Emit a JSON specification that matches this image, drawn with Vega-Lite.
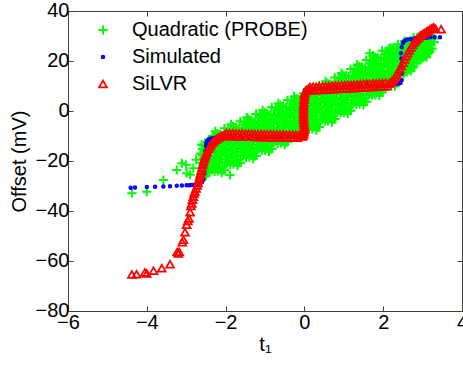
{
"$schema":"https://vega.github.io/schema/vega-lite/v6.json",
"width":394,"height":300,
"autosize":{"type":"none"},
"padding":{"left":68,"top":11,"right":1,"bottom":56},
"background":"white",
"config":{
 "view":{"stroke":"#404040","strokeWidth":1},
 "font":"Liberation Sans",
 "axis":{"labelFont":"Liberation Sans","titleFont":"Liberation Sans","labelFontSize":20,"titleFontSize":20,"titleFontWeight":"normal","labelColor":"#000","titleColor":"#000","grid":false,"domain":false,"tickColor":"#404040","tickSize":-5,"labelOverlap":false,"labelBound":false,"labelFlush":false},
 "legend":{"labelFont":"Liberation Sans","labelFontSize":20,"labelColor":"#000","labelLimit":0}
},
"data":{"values":[
{"s":"Q","x":-2.6,"y":-25.5},{"s":"Q","x":-2.57,"y":-23.0},{"s":"Q","x":-2.62,"y":-20.7},{"s":"Q","x":-2.56,"y":-19.1},{"s":"Q","x":-2.64,"y":-17.1},{"s":"Q","x":-2.59,"y":-15.2},{"s":"Q","x":-2.61,"y":-13.4},
{"s":"Q","x":-2.48,"y":-23.9},{"s":"Q","x":-2.53,"y":-21.4},{"s":"Q","x":-2.45,"y":-19.3},{"s":"Q","x":-2.51,"y":-17.5},{"s":"Q","x":-2.47,"y":-15.6},{"s":"Q","x":-2.54,"y":-13.6},{"s":"Q","x":-2.5,"y":-25.8},
{"s":"Q","x":-2.42,"y":-24.7},{"s":"Q","x":-2.36,"y":-22.5},{"s":"Q","x":-2.4,"y":-20.1},{"s":"Q","x":-2.45,"y":-18.1},{"s":"Q","x":-2.38,"y":-16.2},{"s":"Q","x":-2.35,"y":-14.3},{"s":"Q","x":-2.43,"y":-11.4},
{"s":"Q","x":-2.25,"y":-23.1},{"s":"Q","x":-2.31,"y":-21.2},{"s":"Q","x":-2.27,"y":-18.5},{"s":"Q","x":-2.3,"y":-16.2},{"s":"Q","x":-2.33,"y":-13.7},{"s":"Q","x":-2.28,"y":-11.3},{"s":"Q","x":-2.26,"y":-8.1},
{"s":"Q","x":-2.2,"y":-24.1},{"s":"Q","x":-2.17,"y":-21.0},{"s":"Q","x":-2.22,"y":-18.2},{"s":"Q","x":-2.16,"y":-16.1},{"s":"Q","x":-2.24,"y":-13.7},{"s":"Q","x":-2.19,"y":-11.3},{"s":"Q","x":-2.21,"y":-9.0},
{"s":"Q","x":-2.08,"y":-22.3},{"s":"Q","x":-2.13,"y":-19.2},{"s":"Q","x":-2.05,"y":-16.6},{"s":"Q","x":-2.11,"y":-14.3},{"s":"Q","x":-2.07,"y":-11.9},{"s":"Q","x":-2.14,"y":-9.4},{"s":"Q","x":-2.1,"y":-24.7},
{"s":"Q","x":-2.02,"y":-23.5},{"s":"Q","x":-1.96,"y":-20.7},{"s":"Q","x":-2.0,"y":-17.7},{"s":"Q","x":-2.05,"y":-15.3},{"s":"Q","x":-1.98,"y":-12.9},{"s":"Q","x":-1.95,"y":-10.5},{"s":"Q","x":-2.03,"y":-6.9},
{"s":"Q","x":-1.85,"y":-20.3},{"s":"Q","x":-1.91,"y":-18.4},{"s":"Q","x":-1.87,"y":-15.7},{"s":"Q","x":-1.9,"y":-13.4},{"s":"Q","x":-1.93,"y":-10.9},{"s":"Q","x":-1.88,"y":-8.5},{"s":"Q","x":-1.86,"y":-5.3},
{"s":"Q","x":-1.8,"y":-21.3},{"s":"Q","x":-1.77,"y":-18.2},{"s":"Q","x":-1.82,"y":-15.4},{"s":"Q","x":-1.76,"y":-13.3},{"s":"Q","x":-1.84,"y":-10.9},{"s":"Q","x":-1.79,"y":-8.5},{"s":"Q","x":-1.81,"y":-6.2},
{"s":"Q","x":-1.68,"y":-19.5},{"s":"Q","x":-1.73,"y":-16.4},{"s":"Q","x":-1.65,"y":-13.8},{"s":"Q","x":-1.71,"y":-11.5},{"s":"Q","x":-1.67,"y":-9.1},{"s":"Q","x":-1.74,"y":-6.6},{"s":"Q","x":-1.7,"y":-21.9},
{"s":"Q","x":-1.62,"y":-20.7},{"s":"Q","x":-1.56,"y":-17.9},{"s":"Q","x":-1.6,"y":-14.9},{"s":"Q","x":-1.65,"y":-12.5},{"s":"Q","x":-1.58,"y":-10.1},{"s":"Q","x":-1.55,"y":-7.7},{"s":"Q","x":-1.63,"y":-4.1},
{"s":"Q","x":-1.45,"y":-17.5},{"s":"Q","x":-1.51,"y":-15.6},{"s":"Q","x":-1.47,"y":-12.9},{"s":"Q","x":-1.5,"y":-10.6},{"s":"Q","x":-1.53,"y":-8.1},{"s":"Q","x":-1.48,"y":-5.7},{"s":"Q","x":-1.46,"y":-2.5},
{"s":"Q","x":-1.4,"y":-18.5},{"s":"Q","x":-1.37,"y":-15.4},{"s":"Q","x":-1.42,"y":-12.6},{"s":"Q","x":-1.36,"y":-10.5},{"s":"Q","x":-1.44,"y":-8.1},{"s":"Q","x":-1.39,"y":-5.7},{"s":"Q","x":-1.41,"y":-3.4},
{"s":"Q","x":-1.28,"y":-16.7},{"s":"Q","x":-1.33,"y":-13.6},{"s":"Q","x":-1.25,"y":-11.0},{"s":"Q","x":-1.31,"y":-8.7},{"s":"Q","x":-1.27,"y":-6.3},{"s":"Q","x":-1.34,"y":-3.8},{"s":"Q","x":-1.3,"y":-19.1},
{"s":"Q","x":-1.22,"y":-17.9},{"s":"Q","x":-1.16,"y":-15.1},{"s":"Q","x":-1.2,"y":-12.1},{"s":"Q","x":-1.25,"y":-9.7},{"s":"Q","x":-1.18,"y":-7.3},{"s":"Q","x":-1.15,"y":-4.9},{"s":"Q","x":-1.23,"y":-1.3},
{"s":"Q","x":-1.05,"y":-14.7},{"s":"Q","x":-1.11,"y":-12.8},{"s":"Q","x":-1.07,"y":-10.1},{"s":"Q","x":-1.1,"y":-7.8},{"s":"Q","x":-1.13,"y":-5.3},{"s":"Q","x":-1.08,"y":-2.9},{"s":"Q","x":-1.06,"y":0.3},
{"s":"Q","x":-1.0,"y":-15.7},{"s":"Q","x":-0.97,"y":-12.6},{"s":"Q","x":-1.02,"y":-9.8},{"s":"Q","x":-0.96,"y":-7.7},{"s":"Q","x":-1.04,"y":-5.3},{"s":"Q","x":-0.99,"y":-2.9},{"s":"Q","x":-1.01,"y":-0.6},
{"s":"Q","x":-0.88,"y":-13.9},{"s":"Q","x":-0.93,"y":-10.8},{"s":"Q","x":-0.85,"y":-8.2},{"s":"Q","x":-0.91,"y":-5.9},{"s":"Q","x":-0.87,"y":-3.5},{"s":"Q","x":-0.94,"y":-1.0},{"s":"Q","x":-0.9,"y":-16.3},
{"s":"Q","x":-0.82,"y":-15.1},{"s":"Q","x":-0.76,"y":-12.3},{"s":"Q","x":-0.8,"y":-9.3},{"s":"Q","x":-0.85,"y":-6.9},{"s":"Q","x":-0.78,"y":-4.5},{"s":"Q","x":-0.75,"y":-2.1},{"s":"Q","x":-0.83,"y":1.5},
{"s":"Q","x":-0.65,"y":-11.9},{"s":"Q","x":-0.71,"y":-10.0},{"s":"Q","x":-0.67,"y":-7.3},{"s":"Q","x":-0.7,"y":-5.0},{"s":"Q","x":-0.73,"y":-2.5},{"s":"Q","x":-0.68,"y":-0.1},{"s":"Q","x":-0.66,"y":3.1},
{"s":"Q","x":-0.6,"y":-12.9},{"s":"Q","x":-0.57,"y":-9.8},{"s":"Q","x":-0.62,"y":-7.0},{"s":"Q","x":-0.56,"y":-4.9},{"s":"Q","x":-0.64,"y":-2.5},{"s":"Q","x":-0.59,"y":-0.1},{"s":"Q","x":-0.61,"y":2.2},
{"s":"Q","x":-0.48,"y":-11.1},{"s":"Q","x":-0.53,"y":-8.0},{"s":"Q","x":-0.45,"y":-5.4},{"s":"Q","x":-0.51,"y":-3.1},{"s":"Q","x":-0.47,"y":-0.7},{"s":"Q","x":-0.54,"y":1.8},{"s":"Q","x":-0.5,"y":-13.5},
{"s":"Q","x":-0.42,"y":-12.3},{"s":"Q","x":-0.36,"y":-9.5},{"s":"Q","x":-0.4,"y":-6.5},{"s":"Q","x":-0.45,"y":-4.1},{"s":"Q","x":-0.38,"y":-1.7},{"s":"Q","x":-0.35,"y":0.7},{"s":"Q","x":-0.43,"y":4.3},
{"s":"Q","x":-0.25,"y":-9.1},{"s":"Q","x":-0.31,"y":-7.2},{"s":"Q","x":-0.27,"y":-4.5},{"s":"Q","x":-0.3,"y":-2.2},{"s":"Q","x":-0.33,"y":0.3},{"s":"Q","x":-0.28,"y":2.7},{"s":"Q","x":-0.26,"y":5.9},
{"s":"Q","x":-0.2,"y":-10.1},{"s":"Q","x":-0.17,"y":-7.0},{"s":"Q","x":-0.22,"y":-4.2},{"s":"Q","x":-0.16,"y":-2.1},{"s":"Q","x":-0.24,"y":0.3},{"s":"Q","x":-0.19,"y":2.7},{"s":"Q","x":-0.21,"y":5.0},
{"s":"Q","x":-0.08,"y":-8.3},{"s":"Q","x":-0.13,"y":-5.2},{"s":"Q","x":-0.05,"y":-2.6},{"s":"Q","x":-0.11,"y":-0.3},{"s":"Q","x":-0.07,"y":2.1},{"s":"Q","x":-0.14,"y":4.6},{"s":"Q","x":-0.1,"y":-10.7},
{"s":"Q","x":-0.02,"y":-9.5},{"s":"Q","x":0.04,"y":-6.7},{"s":"Q","x":0.0,"y":-3.7},{"s":"Q","x":-0.05,"y":-1.3},{"s":"Q","x":0.02,"y":1.1},{"s":"Q","x":0.05,"y":3.5},{"s":"Q","x":-0.03,"y":7.1},
{"s":"Q","x":0.15,"y":-6.2},{"s":"Q","x":0.09,"y":-4.3},{"s":"Q","x":0.13,"y":-1.6},{"s":"Q","x":0.1,"y":0.7},{"s":"Q","x":0.07,"y":3.2},{"s":"Q","x":0.12,"y":5.6},{"s":"Q","x":0.14,"y":8.8},
{"s":"Q","x":0.2,"y":-7.2},{"s":"Q","x":0.23,"y":-4.1},{"s":"Q","x":0.18,"y":-1.3},{"s":"Q","x":0.24,"y":0.8},{"s":"Q","x":0.16,"y":3.2},{"s":"Q","x":0.21,"y":5.6},{"s":"Q","x":0.19,"y":7.9},
{"s":"Q","x":0.32,"y":-5.3},{"s":"Q","x":0.27,"y":-2.2},{"s":"Q","x":0.35,"y":0.4},{"s":"Q","x":0.29,"y":2.7},{"s":"Q","x":0.33,"y":5.1},{"s":"Q","x":0.26,"y":7.6},{"s":"Q","x":0.3,"y":-7.7},
{"s":"Q","x":0.38,"y":-6.4},{"s":"Q","x":0.44,"y":-3.6},{"s":"Q","x":0.4,"y":-0.6},{"s":"Q","x":0.35,"y":1.8},{"s":"Q","x":0.42,"y":4.2},{"s":"Q","x":0.45,"y":6.6},{"s":"Q","x":0.37,"y":10.2},
{"s":"Q","x":0.55,"y":-3.1},{"s":"Q","x":0.49,"y":-1.2},{"s":"Q","x":0.53,"y":1.5},{"s":"Q","x":0.5,"y":3.8},{"s":"Q","x":0.47,"y":6.3},{"s":"Q","x":0.52,"y":8.7},{"s":"Q","x":0.54,"y":11.9},
{"s":"Q","x":0.6,"y":-4.0},{"s":"Q","x":0.63,"y":-0.9},{"s":"Q","x":0.58,"y":1.9},{"s":"Q","x":0.64,"y":4.0},{"s":"Q","x":0.56,"y":6.4},{"s":"Q","x":0.61,"y":8.8},{"s":"Q","x":0.59,"y":11.1},
{"s":"Q","x":0.72,"y":-2.1},{"s":"Q","x":0.67,"y":1.0},{"s":"Q","x":0.75,"y":3.6},{"s":"Q","x":0.69,"y":5.9},{"s":"Q","x":0.73,"y":8.3},{"s":"Q","x":0.66,"y":10.8},{"s":"Q","x":0.7,"y":-4.5},
{"s":"Q","x":0.78,"y":-3.2},{"s":"Q","x":0.84,"y":-0.4},{"s":"Q","x":0.8,"y":2.6},{"s":"Q","x":0.75,"y":5.0},{"s":"Q","x":0.82,"y":7.4},{"s":"Q","x":0.85,"y":9.8},{"s":"Q","x":0.77,"y":13.4},
{"s":"Q","x":0.95,"y":0.2},{"s":"Q","x":0.89,"y":2.1},{"s":"Q","x":0.93,"y":4.8},{"s":"Q","x":0.9,"y":7.1},{"s":"Q","x":0.87,"y":9.6},{"s":"Q","x":0.92,"y":12.0},{"s":"Q","x":0.94,"y":15.2},
{"s":"Q","x":1.0,"y":-0.7},{"s":"Q","x":1.03,"y":2.4},{"s":"Q","x":0.98,"y":5.2},{"s":"Q","x":1.04,"y":7.3},{"s":"Q","x":0.96,"y":9.7},{"s":"Q","x":1.01,"y":12.1},{"s":"Q","x":0.99,"y":14.4},
{"s":"Q","x":1.12,"y":1.3},{"s":"Q","x":1.07,"y":4.4},{"s":"Q","x":1.15,"y":7.0},{"s":"Q","x":1.09,"y":9.3},{"s":"Q","x":1.13,"y":11.7},{"s":"Q","x":1.06,"y":14.2},{"s":"Q","x":1.1,"y":-1.1},
{"s":"Q","x":1.18,"y":0.2},{"s":"Q","x":1.24,"y":3.0},{"s":"Q","x":1.2,"y":6.0},{"s":"Q","x":1.15,"y":8.4},{"s":"Q","x":1.22,"y":10.8},{"s":"Q","x":1.25,"y":13.2},{"s":"Q","x":1.17,"y":16.8},
{"s":"Q","x":1.35,"y":3.6},{"s":"Q","x":1.29,"y":5.5},{"s":"Q","x":1.33,"y":8.2},{"s":"Q","x":1.3,"y":10.5},{"s":"Q","x":1.27,"y":13.0},{"s":"Q","x":1.32,"y":15.4},{"s":"Q","x":1.34,"y":18.6},
{"s":"Q","x":1.4,"y":2.8},{"s":"Q","x":1.43,"y":5.9},{"s":"Q","x":1.38,"y":8.7},{"s":"Q","x":1.44,"y":10.8},{"s":"Q","x":1.36,"y":13.2},{"s":"Q","x":1.41,"y":15.6},{"s":"Q","x":1.39,"y":17.9},
{"s":"Q","x":1.52,"y":4.8},{"s":"Q","x":1.47,"y":7.9},{"s":"Q","x":1.55,"y":10.5},{"s":"Q","x":1.49,"y":12.8},{"s":"Q","x":1.53,"y":15.2},{"s":"Q","x":1.46,"y":17.7},{"s":"Q","x":1.5,"y":2.4},
{"s":"Q","x":1.58,"y":3.8},{"s":"Q","x":1.64,"y":6.6},{"s":"Q","x":1.6,"y":9.6},{"s":"Q","x":1.55,"y":12.0},{"s":"Q","x":1.62,"y":14.4},{"s":"Q","x":1.65,"y":16.8},{"s":"Q","x":1.57,"y":20.4},
{"s":"Q","x":1.75,"y":7.2},{"s":"Q","x":1.69,"y":9.1},{"s":"Q","x":1.73,"y":11.8},{"s":"Q","x":1.7,"y":14.1},{"s":"Q","x":1.67,"y":16.6},{"s":"Q","x":1.72,"y":19.0},{"s":"Q","x":1.74,"y":22.2},
{"s":"Q","x":1.8,"y":6.4},{"s":"Q","x":1.83,"y":9.5},{"s":"Q","x":1.78,"y":12.3},{"s":"Q","x":1.84,"y":14.4},{"s":"Q","x":1.76,"y":16.8},{"s":"Q","x":1.81,"y":19.2},{"s":"Q","x":1.79,"y":21.5},
{"s":"Q","x":1.92,"y":8.5},{"s":"Q","x":1.87,"y":11.6},{"s":"Q","x":1.95,"y":14.2},{"s":"Q","x":1.89,"y":16.5},{"s":"Q","x":1.93,"y":18.9},{"s":"Q","x":1.86,"y":21.4},{"s":"Q","x":1.9,"y":6.1},
{"s":"Q","x":1.98,"y":7.5},{"s":"Q","x":2.04,"y":10.3},{"s":"Q","x":2.0,"y":13.3},{"s":"Q","x":1.95,"y":15.7},{"s":"Q","x":2.02,"y":18.1},{"s":"Q","x":2.05,"y":20.5},{"s":"Q","x":1.97,"y":24.1},
{"s":"Q","x":2.15,"y":11.0},{"s":"Q","x":2.09,"y":12.9},{"s":"Q","x":2.13,"y":15.6},{"s":"Q","x":2.1,"y":17.9},{"s":"Q","x":2.07,"y":20.4},{"s":"Q","x":2.12,"y":22.8},{"s":"Q","x":2.14,"y":25.0},
{"s":"Q","x":2.2,"y":10.2},{"s":"Q","x":2.23,"y":13.3},{"s":"Q","x":2.18,"y":16.1},{"s":"Q","x":2.24,"y":18.2},{"s":"Q","x":2.16,"y":20.6},{"s":"Q","x":2.21,"y":23.0},{"s":"Q","x":2.19,"y":25.3},
{"s":"Q","x":2.32,"y":12.3},{"s":"Q","x":2.27,"y":15.4},{"s":"Q","x":2.35,"y":18.0},{"s":"Q","x":2.29,"y":20.3},{"s":"Q","x":2.33,"y":22.7},{"s":"Q","x":2.26,"y":25.2},{"s":"Q","x":2.3,"y":9.9},
{"s":"Q","x":2.38,"y":12.6},{"s":"Q","x":2.44,"y":15.0},{"s":"Q","x":2.4,"y":17.5},{"s":"Q","x":2.35,"y":19.6},{"s":"Q","x":2.42,"y":21.6},{"s":"Q","x":2.45,"y":23.7},{"s":"Q","x":2.37,"y":26.7},
{"s":"Q","x":2.55,"y":15.7},{"s":"Q","x":2.49,"y":17.3},{"s":"Q","x":2.53,"y":19.6},{"s":"Q","x":2.5,"y":21.6},{"s":"Q","x":2.47,"y":23.7},{"s":"Q","x":2.52,"y":25.8},{"s":"Q","x":2.54,"y":28.0},
{"s":"Q","x":2.6,"y":15.6},{"s":"Q","x":2.63,"y":18.1},{"s":"Q","x":2.58,"y":20.4},{"s":"Q","x":2.64,"y":22.0},{"s":"Q","x":2.56,"y":24.0},{"s":"Q","x":2.61,"y":25.9},{"s":"Q","x":2.59,"y":27.7},
{"s":"Q","x":2.72,"y":17.8},{"s":"Q","x":2.67,"y":20.1},{"s":"Q","x":2.75,"y":22.1},{"s":"Q","x":2.69,"y":23.8},{"s":"Q","x":2.73,"y":25.6},{"s":"Q","x":2.66,"y":27.5},{"s":"Q","x":2.7,"y":16.0},
{"s":"Q","x":2.78,"y":17.8},{"s":"Q","x":2.84,"y":19.8},{"s":"Q","x":2.8,"y":21.9},{"s":"Q","x":2.75,"y":23.5},{"s":"Q","x":2.82,"y":25.2},{"s":"Q","x":2.85,"y":26.9},{"s":"Q","x":2.77,"y":29.4},
{"s":"Q","x":2.95,"y":20.6},{"s":"Q","x":2.89,"y":22.0},{"s":"Q","x":2.93,"y":23.9},{"s":"Q","x":2.9,"y":25.5},{"s":"Q","x":2.87,"y":27.2},{"s":"Q","x":2.92,"y":28.9},{"s":"Q","x":2.94,"y":30.2},
{"s":"Q","x":3.0,"y":21.2},{"s":"Q","x":3.03,"y":23.0},{"s":"Q","x":2.98,"y":24.7},{"s":"Q","x":3.04,"y":26.0},{"s":"Q","x":2.96,"y":27.4},{"s":"Q","x":3.01,"y":28.9},{"s":"Q","x":2.99,"y":30.2},
{"s":"Q","x":3.12,"y":22.9},{"s":"Q","x":3.07,"y":24.8},{"s":"Q","x":3.15,"y":26.4},{"s":"Q","x":3.09,"y":27.7},{"s":"Q","x":3.13,"y":29.2},{"s":"Q","x":3.06,"y":30.7},{"s":"Q","x":3.1,"y":21.5},
{"s":"Q","x":3.18,"y":23.6},{"s":"Q","x":3.24,"y":25.0},{"s":"Q","x":3.2,"y":26.5},{"s":"Q","x":3.15,"y":27.7},{"s":"Q","x":3.22,"y":28.9},{"s":"Q","x":3.25,"y":30.1},{"s":"Q","x":3.17,"y":31.9},
{"s":"Q","x":3.3,"y":27.5},{"s":"Q","x":3.28,"y":29.0},
{"s":"Q","x":-2.54,"y":-24.7},{"s":"Q","x":-2.57,"y":-22.2},{"s":"Q","x":-2.52,"y":-19.9},{"s":"Q","x":-2.58,"y":-17.7},{"s":"Q","x":-2.53,"y":-15.7},{"s":"Q","x":-2.55,"y":-13.8},
{"s":"Q","x":-2.46,"y":-24.9},{"s":"Q","x":-2.42,"y":-22.5},{"s":"Q","x":-2.48,"y":-20.3},{"s":"Q","x":-2.43,"y":-18.2},{"s":"Q","x":-2.45,"y":-16.0},{"s":"Q","x":-2.47,"y":-13.9},
{"s":"Q","x":-2.32,"y":-23.0},{"s":"Q","x":-2.35,"y":-20.6},{"s":"Q","x":-2.37,"y":-18.1},{"s":"Q","x":-2.34,"y":-15.1},{"s":"Q","x":-2.38,"y":-12.7},{"s":"Q","x":-2.33,"y":-10.0},
{"s":"Q","x":-2.28,"y":-24.2},{"s":"Q","x":-2.24,"y":-21.7},{"s":"Q","x":-2.23,"y":-18.9},{"s":"Q","x":-2.26,"y":-16.2},{"s":"Q","x":-2.22,"y":-13.6},{"s":"Q","x":-2.27,"y":-10.7},
{"s":"Q","x":-2.14,"y":-23.2},{"s":"Q","x":-2.17,"y":-20.1},{"s":"Q","x":-2.12,"y":-17.3},{"s":"Q","x":-2.18,"y":-14.5},{"s":"Q","x":-2.13,"y":-12.0},{"s":"Q","x":-2.15,"y":-9.6},
{"s":"Q","x":-2.06,"y":-23.6},{"s":"Q","x":-2.02,"y":-20.7},{"s":"Q","x":-2.08,"y":-17.9},{"s":"Q","x":-2.03,"y":-15.3},{"s":"Q","x":-2.05,"y":-12.5},{"s":"Q","x":-2.07,"y":-9.9},
{"s":"Q","x":-1.92,"y":-20.2},{"s":"Q","x":-1.95,"y":-17.8},{"s":"Q","x":-1.97,"y":-15.3},{"s":"Q","x":-1.94,"y":-12.3},{"s":"Q","x":-1.98,"y":-9.9},{"s":"Q","x":-1.93,"y":-7.2},
{"s":"Q","x":-1.88,"y":-21.4},{"s":"Q","x":-1.84,"y":-18.9},{"s":"Q","x":-1.83,"y":-16.1},{"s":"Q","x":-1.86,"y":-13.4},{"s":"Q","x":-1.82,"y":-10.8},{"s":"Q","x":-1.87,"y":-7.9},
{"s":"Q","x":-1.74,"y":-20.4},{"s":"Q","x":-1.77,"y":-17.3},{"s":"Q","x":-1.72,"y":-14.5},{"s":"Q","x":-1.78,"y":-11.7},{"s":"Q","x":-1.73,"y":-9.2},{"s":"Q","x":-1.75,"y":-6.8},
{"s":"Q","x":-1.66,"y":-20.8},{"s":"Q","x":-1.62,"y":-17.9},{"s":"Q","x":-1.68,"y":-15.1},{"s":"Q","x":-1.63,"y":-12.5},{"s":"Q","x":-1.65,"y":-9.7},{"s":"Q","x":-1.67,"y":-7.1},
{"s":"Q","x":-1.52,"y":-17.4},{"s":"Q","x":-1.55,"y":-15.0},{"s":"Q","x":-1.57,"y":-12.5},{"s":"Q","x":-1.54,"y":-9.5},{"s":"Q","x":-1.58,"y":-7.1},{"s":"Q","x":-1.53,"y":-4.4},
{"s":"Q","x":-1.48,"y":-18.6},{"s":"Q","x":-1.44,"y":-16.1},{"s":"Q","x":-1.43,"y":-13.3},{"s":"Q","x":-1.46,"y":-10.6},{"s":"Q","x":-1.42,"y":-8.0},{"s":"Q","x":-1.47,"y":-5.1},
{"s":"Q","x":-1.34,"y":-17.6},{"s":"Q","x":-1.37,"y":-14.5},{"s":"Q","x":-1.32,"y":-11.7},{"s":"Q","x":-1.38,"y":-8.9},{"s":"Q","x":-1.33,"y":-6.4},{"s":"Q","x":-1.35,"y":-4.0},
{"s":"Q","x":-1.26,"y":-18.0},{"s":"Q","x":-1.22,"y":-15.1},{"s":"Q","x":-1.28,"y":-12.3},{"s":"Q","x":-1.23,"y":-9.7},{"s":"Q","x":-1.25,"y":-6.9},{"s":"Q","x":-1.27,"y":-4.3},
{"s":"Q","x":-1.12,"y":-14.6},{"s":"Q","x":-1.15,"y":-12.2},{"s":"Q","x":-1.17,"y":-9.7},{"s":"Q","x":-1.14,"y":-6.7},{"s":"Q","x":-1.18,"y":-4.3},{"s":"Q","x":-1.13,"y":-1.6},
{"s":"Q","x":-1.08,"y":-15.8},{"s":"Q","x":-1.04,"y":-13.3},{"s":"Q","x":-1.03,"y":-10.5},{"s":"Q","x":-1.06,"y":-7.8},{"s":"Q","x":-1.02,"y":-5.2},{"s":"Q","x":-1.07,"y":-2.3},
{"s":"Q","x":-0.94,"y":-14.8},{"s":"Q","x":-0.97,"y":-11.7},{"s":"Q","x":-0.92,"y":-8.9},{"s":"Q","x":-0.98,"y":-6.1},{"s":"Q","x":-0.93,"y":-3.6},{"s":"Q","x":-0.95,"y":-1.2},
{"s":"Q","x":-0.86,"y":-15.2},{"s":"Q","x":-0.82,"y":-12.3},{"s":"Q","x":-0.88,"y":-9.5},{"s":"Q","x":-0.83,"y":-6.9},{"s":"Q","x":-0.85,"y":-4.1},{"s":"Q","x":-0.87,"y":-1.5},
{"s":"Q","x":-0.72,"y":-11.8},{"s":"Q","x":-0.75,"y":-9.4},{"s":"Q","x":-0.77,"y":-6.9},{"s":"Q","x":-0.74,"y":-3.9},{"s":"Q","x":-0.78,"y":-1.5},{"s":"Q","x":-0.73,"y":1.3},
{"s":"Q","x":-0.68,"y":-13.0},{"s":"Q","x":-0.64,"y":-10.5},{"s":"Q","x":-0.63,"y":-7.7},{"s":"Q","x":-0.66,"y":-5.0},{"s":"Q","x":-0.62,"y":-2.4},{"s":"Q","x":-0.67,"y":0.6},
{"s":"Q","x":-0.54,"y":-12.0},{"s":"Q","x":-0.57,"y":-8.9},{"s":"Q","x":-0.52,"y":-6.1},{"s":"Q","x":-0.58,"y":-3.3},{"s":"Q","x":-0.53,"y":-0.8},{"s":"Q","x":-0.55,"y":1.7},
{"s":"Q","x":-0.46,"y":-12.4},{"s":"Q","x":-0.42,"y":-9.5},{"s":"Q","x":-0.48,"y":-6.7},{"s":"Q","x":-0.43,"y":-4.1},{"s":"Q","x":-0.45,"y":-1.3},{"s":"Q","x":-0.47,"y":1.4},
{"s":"Q","x":-0.32,"y":-9.0},{"s":"Q","x":-0.35,"y":-6.6},{"s":"Q","x":-0.37,"y":-4.1},{"s":"Q","x":-0.34,"y":-1.1},{"s":"Q","x":-0.38,"y":1.4},{"s":"Q","x":-0.33,"y":4.1},
{"s":"Q","x":-0.28,"y":-10.2},{"s":"Q","x":-0.24,"y":-7.7},{"s":"Q","x":-0.23,"y":-4.9},{"s":"Q","x":-0.26,"y":-2.2},{"s":"Q","x":-0.22,"y":0.5},{"s":"Q","x":-0.27,"y":3.4},
{"s":"Q","x":-0.14,"y":-9.2},{"s":"Q","x":-0.17,"y":-6.1},{"s":"Q","x":-0.12,"y":-3.3},{"s":"Q","x":-0.18,"y":-0.5},{"s":"Q","x":-0.13,"y":2.1},{"s":"Q","x":-0.15,"y":4.5},
{"s":"Q","x":-0.06,"y":-9.6},{"s":"Q","x":-0.02,"y":-6.7},{"s":"Q","x":-0.08,"y":-3.9},{"s":"Q","x":-0.03,"y":-1.3},{"s":"Q","x":-0.05,"y":1.6},{"s":"Q","x":-0.07,"y":4.2},
{"s":"Q","x":0.08,"y":-6.1},{"s":"Q","x":0.05,"y":-3.7},{"s":"Q","x":0.03,"y":-1.2},{"s":"Q","x":0.06,"y":1.8},{"s":"Q","x":0.02,"y":4.2},{"s":"Q","x":0.07,"y":6.9},
{"s":"Q","x":0.12,"y":-7.3},{"s":"Q","x":0.16,"y":-4.8},{"s":"Q","x":0.17,"y":-2.0},{"s":"Q","x":0.14,"y":0.7},{"s":"Q","x":0.18,"y":3.3},{"s":"Q","x":0.13,"y":6.2},
{"s":"Q","x":0.26,"y":-6.2},{"s":"Q","x":0.23,"y":-3.1},{"s":"Q","x":0.28,"y":-0.3},{"s":"Q","x":0.22,"y":2.5},{"s":"Q","x":0.27,"y":5.0},{"s":"Q","x":0.25,"y":7.4},
{"s":"Q","x":0.34,"y":-6.5},{"s":"Q","x":0.38,"y":-3.6},{"s":"Q","x":0.32,"y":-0.8},{"s":"Q","x":0.37,"y":1.8},{"s":"Q","x":0.35,"y":4.6},{"s":"Q","x":0.33,"y":7.2},
{"s":"Q","x":0.48,"y":-3.0},{"s":"Q","x":0.45,"y":-0.6},{"s":"Q","x":0.43,"y":1.9},{"s":"Q","x":0.46,"y":4.9},{"s":"Q","x":0.42,"y":7.3},{"s":"Q","x":0.47,"y":10.0},
{"s":"Q","x":0.52,"y":-4.1},{"s":"Q","x":0.56,"y":-1.6},{"s":"Q","x":0.57,"y":1.2},{"s":"Q","x":0.54,"y":3.9},{"s":"Q","x":0.58,"y":6.5},{"s":"Q","x":0.53,"y":9.4},
{"s":"Q","x":0.66,"y":-3.0},{"s":"Q","x":0.63,"y":0.1},{"s":"Q","x":0.68,"y":2.9},{"s":"Q","x":0.62,"y":5.7},{"s":"Q","x":0.67,"y":8.2},{"s":"Q","x":0.65,"y":10.6},
{"s":"Q","x":0.74,"y":-3.3},{"s":"Q","x":0.78,"y":-0.4},{"s":"Q","x":0.72,"y":2.4},{"s":"Q","x":0.77,"y":5.0},{"s":"Q","x":0.75,"y":7.8},{"s":"Q","x":0.73,"y":10.4},
{"s":"Q","x":0.88,"y":0.2},{"s":"Q","x":0.85,"y":2.6},{"s":"Q","x":0.83,"y":5.1},{"s":"Q","x":0.86,"y":8.1},{"s":"Q","x":0.82,"y":10.5},{"s":"Q","x":0.87,"y":13.2},
{"s":"Q","x":0.92,"y":-0.8},{"s":"Q","x":0.96,"y":1.7},{"s":"Q","x":0.97,"y":4.5},{"s":"Q","x":0.94,"y":7.2},{"s":"Q","x":0.98,"y":9.8},{"s":"Q","x":0.93,"y":12.7},
{"s":"Q","x":1.06,"y":0.3},{"s":"Q","x":1.03,"y":3.4},{"s":"Q","x":1.08,"y":6.2},{"s":"Q","x":1.02,"y":9.0},{"s":"Q","x":1.07,"y":11.5},{"s":"Q","x":1.05,"y":13.9},
{"s":"Q","x":1.14,"y":0.1},{"s":"Q","x":1.18,"y":3.0},{"s":"Q","x":1.12,"y":5.8},{"s":"Q","x":1.17,"y":8.4},{"s":"Q","x":1.15,"y":11.2},{"s":"Q","x":1.13,"y":13.8},
{"s":"Q","x":1.28,"y":3.7},{"s":"Q","x":1.25,"y":6.1},{"s":"Q","x":1.23,"y":8.6},{"s":"Q","x":1.26,"y":11.6},{"s":"Q","x":1.22,"y":14.0},{"s":"Q","x":1.27,"y":16.7},
{"s":"Q","x":1.32,"y":2.6},{"s":"Q","x":1.36,"y":5.1},{"s":"Q","x":1.37,"y":7.9},{"s":"Q","x":1.34,"y":10.6},{"s":"Q","x":1.38,"y":13.2},{"s":"Q","x":1.33,"y":16.1},
{"s":"Q","x":1.46,"y":3.8},{"s":"Q","x":1.43,"y":6.9},{"s":"Q","x":1.48,"y":9.7},{"s":"Q","x":1.42,"y":12.5},{"s":"Q","x":1.47,"y":15.0},{"s":"Q","x":1.45,"y":17.4},
{"s":"Q","x":1.54,"y":3.6},{"s":"Q","x":1.58,"y":6.5},{"s":"Q","x":1.52,"y":9.3},{"s":"Q","x":1.57,"y":11.9},{"s":"Q","x":1.55,"y":14.7},{"s":"Q","x":1.53,"y":17.3},
{"s":"Q","x":1.68,"y":7.2},{"s":"Q","x":1.65,"y":9.6},{"s":"Q","x":1.63,"y":12.1},{"s":"Q","x":1.66,"y":15.1},{"s":"Q","x":1.62,"y":17.5},{"s":"Q","x":1.67,"y":20.2},
{"s":"Q","x":1.72,"y":6.3},{"s":"Q","x":1.76,"y":8.8},{"s":"Q","x":1.77,"y":11.6},{"s":"Q","x":1.74,"y":14.3},{"s":"Q","x":1.78,"y":16.9},{"s":"Q","x":1.73,"y":19.8},
{"s":"Q","x":1.86,"y":7.5},{"s":"Q","x":1.83,"y":10.6},{"s":"Q","x":1.88,"y":13.4},{"s":"Q","x":1.82,"y":16.2},{"s":"Q","x":1.87,"y":18.7},{"s":"Q","x":1.85,"y":21.1},
{"s":"Q","x":1.94,"y":7.3},{"s":"Q","x":1.98,"y":10.2},{"s":"Q","x":1.92,"y":13.0},{"s":"Q","x":1.97,"y":15.6},{"s":"Q","x":1.95,"y":18.4},{"s":"Q","x":1.93,"y":21.0},
{"s":"Q","x":2.08,"y":11.0},{"s":"Q","x":2.05,"y":13.4},{"s":"Q","x":2.03,"y":15.9},{"s":"Q","x":2.06,"y":18.9},{"s":"Q","x":2.02,"y":21.3},{"s":"Q","x":2.07,"y":24.0},
{"s":"Q","x":2.12,"y":10.0},{"s":"Q","x":2.16,"y":12.5},{"s":"Q","x":2.17,"y":15.3},{"s":"Q","x":2.14,"y":18.0},{"s":"Q","x":2.18,"y":20.6},{"s":"Q","x":2.13,"y":23.5},
{"s":"Q","x":2.26,"y":11.3},{"s":"Q","x":2.23,"y":14.4},{"s":"Q","x":2.28,"y":17.2},{"s":"Q","x":2.22,"y":20.0},{"s":"Q","x":2.27,"y":22.5},{"s":"Q","x":2.25,"y":24.9},
{"s":"Q","x":2.34,"y":11.2},{"s":"Q","x":2.38,"y":14.1},{"s":"Q","x":2.32,"y":16.9},{"s":"Q","x":2.37,"y":19.5},{"s":"Q","x":2.35,"y":22.3},{"s":"Q","x":2.33,"y":24.9},
{"s":"Q","x":2.48,"y":15.6},{"s":"Q","x":2.45,"y":17.7},{"s":"Q","x":2.43,"y":19.8},{"s":"Q","x":2.46,"y":22.4},{"s":"Q","x":2.42,"y":24.4},{"s":"Q","x":2.47,"y":26.7},
{"s":"Q","x":2.52,"y":15.0},{"s":"Q","x":2.56,"y":17.2},{"s":"Q","x":2.57,"y":19.5},{"s":"Q","x":2.54,"y":21.8},{"s":"Q","x":2.58,"y":24.0},{"s":"Q","x":2.53,"y":26.5},
{"s":"Q","x":2.66,"y":16.6},{"s":"Q","x":2.63,"y":19.1},{"s":"Q","x":2.68,"y":21.3},{"s":"Q","x":2.62,"y":23.6},{"s":"Q","x":2.67,"y":25.6},{"s":"Q","x":2.65,"y":27.5},
{"s":"Q","x":2.74,"y":17.1},{"s":"Q","x":2.78,"y":19.3},{"s":"Q","x":2.72,"y":21.4},{"s":"Q","x":2.77,"y":23.4},{"s":"Q","x":2.75,"y":25.5},{"s":"Q","x":2.73,"y":27.4},
{"s":"Q","x":2.88,"y":20.4},{"s":"Q","x":2.85,"y":22.1},{"s":"Q","x":2.83,"y":23.8},{"s":"Q","x":2.86,"y":25.9},{"s":"Q","x":2.82,"y":27.6},{"s":"Q","x":2.87,"y":29.5},
{"s":"Q","x":2.92,"y":20.2},{"s":"Q","x":2.96,"y":21.9},{"s":"Q","x":2.97,"y":23.9},{"s":"Q","x":2.94,"y":25.8},{"s":"Q","x":2.98,"y":27.6},{"s":"Q","x":2.93,"y":29.6},
{"s":"Q","x":3.06,"y":22.0},{"s":"Q","x":3.03,"y":23.9},{"s":"Q","x":3.08,"y":25.6},{"s":"Q","x":3.02,"y":27.3},{"s":"Q","x":3.07,"y":28.8},{"s":"Q","x":3.05,"y":30.2},
{"s":"Q","x":3.14,"y":22.9},{"s":"Q","x":3.18,"y":24.5},{"s":"Q","x":3.12,"y":26.0},{"s":"Q","x":3.17,"y":27.4},{"s":"Q","x":3.15,"y":29.0},{"s":"Q","x":3.13,"y":30.4},
{"s":"Q","x":-3.24,"y":-23.6},{"s":"Q","x":-3.11,"y":-20.9},{"s":"Q","x":-2.99,"y":-24.9},{"s":"Q","x":-2.82,"y":-22.9},{"s":"Q","x":-3.58,"y":-27.6},{"s":"Q","x":-4.0,"y":-32.3},{"s":"Q","x":-4.38,"y":-32.9},{"s":"Q","x":-2.9,"y":-25.5},{"s":"Q","x":-2.75,"y":-19.5},{"s":"Q","x":-3.0,"y":-21.5},{"s":"Q","x":-1.89,"y":-25.6},{"s":"Q","x":-1.22,"y":-1.2},{"s":"Q","x":1.66,"y":23.1},
{"s":"S","x":-4.41,"y":-30.7},{"s":"S","x":-4.3,"y":-30.6},{"s":"S","x":-4.0,"y":-30.4},{"s":"S","x":-3.79,"y":-30.3},{"s":"S","x":-3.58,"y":-30.2},{"s":"S","x":-3.41,"y":-30.1},{"s":"S","x":-3.24,"y":-29.9},{"s":"S","x":-3.11,"y":-29.8},{"s":"S","x":-2.99,"y":-29.7},{"s":"S","x":-2.92,"y":-29.7},{"s":"S","x":-2.86,"y":-29.6},{"s":"S","x":-2.79,"y":-29.5},{"s":"S","x":-2.73,"y":-29.4},{"s":"S","x":-2.65,"y":-29.0},{"s":"S","x":-2.6,"y":-28.5},{"s":"S","x":-2.56,"y":-27.5},{"s":"S","x":-2.54,"y":-25.0},{"s":"S","x":-2.53,"y":-22.0},{"s":"S","x":-2.52,"y":-19.0},{"s":"S","x":-2.51,"y":-16.0},{"s":"S","x":-2.5,"y":-14.0},{"s":"S","x":-2.49,"y":-12.8},{"s":"S","x":-2.47,"y":-12.0},{"s":"S","x":-2.44,"y":-11.5},{"s":"S","x":-2.41,"y":-11.2},{"s":"S","x":-2.36,"y":-11.0},{"s":"S","x":-2.3,"y":-10.8},
{"s":"S","x":-2.2,"y":-10.6},{"s":"S","x":-2.0,"y":-10.5},{"s":"S","x":-1.8,"y":-10.5},{"s":"S","x":-1.6,"y":-10.4},{"s":"S","x":-1.4,"y":-10.4},{"s":"S","x":-1.2,"y":-10.3},{"s":"S","x":-1.0,"y":-10.3},{"s":"S","x":-0.8,"y":-10.3},{"s":"S","x":-0.6,"y":-10.2},{"s":"S","x":-0.4,"y":-10.2},{"s":"S","x":-0.2,"y":-10.2},{"s":"S","x":-0.08,"y":-10.1},
{"s":"S","x":0.0,"y":-9.0},{"s":"S","x":0.0,"y":-6.0},{"s":"S","x":0.0,"y":-3.0},{"s":"S","x":0.0,"y":0.0},{"s":"S","x":0.0,"y":3.0},{"s":"S","x":0.0,"y":6.0},{"s":"S","x":0.02,"y":8.5},
{"s":"S","x":0.2,"y":9.0},{"s":"S","x":0.4,"y":9.2},{"s":"S","x":0.6,"y":9.4},{"s":"S","x":0.8,"y":9.6},{"s":"S","x":1.0,"y":9.8},{"s":"S","x":1.2,"y":10.0},{"s":"S","x":1.4,"y":10.2},{"s":"S","x":1.6,"y":10.4},{"s":"S","x":1.8,"y":10.5},{"s":"S","x":2.0,"y":10.6},{"s":"S","x":2.2,"y":10.7},{"s":"S","x":2.3,"y":10.8},{"s":"S","x":2.38,"y":10.9},{"s":"S","x":2.44,"y":11.2},{"s":"S","x":2.47,"y":12.4},{"s":"S","x":2.47,"y":15.0},{"s":"S","x":2.46,"y":18.0},{"s":"S","x":2.46,"y":21.0},{"s":"S","x":2.45,"y":23.1},{"s":"S","x":2.47,"y":25.5},{"s":"S","x":2.5,"y":27.2},{"s":"S","x":2.53,"y":27.9},{"s":"S","x":2.57,"y":28.3},{"s":"S","x":2.62,"y":28.6},{"s":"S","x":2.7,"y":28.8},{"s":"S","x":2.8,"y":29.0},{"s":"S","x":2.9,"y":29.1},{"s":"S","x":3.0,"y":29.2},{"s":"S","x":3.1,"y":29.3},{"s":"S","x":3.19,"y":29.5},{"s":"S","x":3.3,"y":29.5},{"s":"S","x":3.44,"y":29.5},
{"s":"R","x":-4.38,"y":-65.4},{"s":"R","x":-4.26,"y":-65.3},{"s":"R","x":-4.05,"y":-64.6},{"s":"R","x":-4.0,"y":-65.0},{"s":"R","x":-3.83,"y":-63.9},{"s":"R","x":-3.62,"y":-62.9},{"s":"R","x":-3.41,"y":-61.3},{"s":"R","x":-3.23,"y":-56.4},{"s":"R","x":-3.2,"y":-57.0},{"s":"R","x":-3.18,"y":-56.3},{"s":"R","x":-3.1,"y":-52.5},{"s":"R","x":-3.07,"y":-51.5},{"s":"R","x":-3.03,"y":-48.5},{"s":"R","x":-2.99,"y":-45.5},{"s":"R","x":-2.96,"y":-44.0},{"s":"R","x":-2.93,"y":-43.0},{"s":"R","x":-2.9,"y":-40.5},{"s":"R","x":-2.88,"y":-38.0},{"s":"R","x":-2.86,"y":-37.0},{"s":"R","x":-2.84,"y":-35.5},{"s":"R","x":-2.82,"y":-34.3},{"s":"R","x":-2.8,"y":-33.0},{"s":"R","x":-2.78,"y":-32.2},
{"s":"R","x":-2.75,"y":-31.0},{"s":"R","x":-2.72,"y":-29.8},{"s":"R","x":-2.7,"y":-28.8},{"s":"R","x":-2.68,"y":-27.5},{"s":"R","x":-2.66,"y":-26.2},{"s":"R","x":-2.64,"y":-25.0},{"s":"R","x":-2.62,"y":-23.8},{"s":"R","x":-2.6,"y":-22.6},{"s":"R","x":-2.58,"y":-21.4},{"s":"R","x":-2.56,"y":-20.2},{"s":"R","x":-2.54,"y":-19.2},{"s":"R","x":-2.52,"y":-18.2},{"s":"R","x":-2.5,"y":-17.3},{"s":"R","x":-2.47,"y":-16.3},{"s":"R","x":-2.44,"y":-15.3},{"s":"R","x":-2.41,"y":-14.4},{"s":"R","x":-2.38,"y":-13.6},{"s":"R","x":-2.34,"y":-12.8},{"s":"R","x":-2.3,"y":-12.1},{"s":"R","x":-2.26,"y":-11.5},{"s":"R","x":-2.22,"y":-11.0},{"s":"R","x":-2.18,"y":-10.6},{"s":"R","x":-2.14,"y":-10.3},{"s":"R","x":-2.1,"y":-10.0},{"s":"R","x":-2.06,"y":-9.8},{"s":"R","x":-2.02,"y":-9.6},
{"s":"R","x":-1.98,"y":-8.9},{"s":"R","x":-1.94,"y":-10.1},{"s":"R","x":-1.9,"y":-8.9},{"s":"R","x":-1.86,"y":-10.1},{"s":"R","x":-1.82,"y":-8.9},{"s":"R","x":-1.78,"y":-10.1},{"s":"R","x":-1.74,"y":-9.0},{"s":"R","x":-1.7,"y":-10.2},{"s":"R","x":-1.66,"y":-9.0},{"s":"R","x":-1.62,"y":-10.2},{"s":"R","x":-1.58,"y":-9.0},{"s":"R","x":-1.54,"y":-10.2},{"s":"R","x":-1.5,"y":-9.1},{"s":"R","x":-1.46,"y":-10.3},{"s":"R","x":-1.42,"y":-9.1},{"s":"R","x":-1.38,"y":-10.3},{"s":"R","x":-1.34,"y":-9.1},{"s":"R","x":-1.3,"y":-10.3},{"s":"R","x":-1.26,"y":-9.2},{"s":"R","x":-1.22,"y":-10.4},{"s":"R","x":-1.18,"y":-9.2},{"s":"R","x":-1.14,"y":-10.4},{"s":"R","x":-1.1,"y":-9.2},{"s":"R","x":-1.06,"y":-10.4},{"s":"R","x":-1.02,"y":-9.3},{"s":"R","x":-0.98,"y":-10.5},{"s":"R","x":-0.94,"y":-9.3},{"s":"R","x":-0.9,"y":-10.5},{"s":"R","x":-0.86,"y":-9.3},{"s":"R","x":-0.82,"y":-10.5},{"s":"R","x":-0.78,"y":-9.4},{"s":"R","x":-0.74,"y":-10.6},{"s":"R","x":-0.7,"y":-9.4},{"s":"R","x":-0.66,"y":-10.6},{"s":"R","x":-0.62,"y":-9.4},{"s":"R","x":-0.58,"y":-10.6},{"s":"R","x":-0.54,"y":-9.4},{"s":"R","x":-0.5,"y":-10.6},{"s":"R","x":-0.46,"y":-9.5},{"s":"R","x":-0.42,"y":-10.7},{"s":"R","x":-0.38,"y":-9.5},{"s":"R","x":-0.34,"y":-10.7},{"s":"R","x":-0.3,"y":-9.5},{"s":"R","x":-0.26,"y":-10.7},{"s":"R","x":-0.22,"y":-9.5},{"s":"R","x":-0.18,"y":-10.7},{"s":"R","x":-0.14,"y":-9.6},
{"s":"R","x":-0.1,"y":-10.1},{"s":"R","x":-0.07,"y":-10.2},{"s":"R","x":-0.04,"y":-10.0},{"s":"R","x":-0.02,"y":-9.3},{"s":"R","x":-0.01,"y":-8.4},{"s":"R","x":0.0,"y":-7.5},{"s":"R","x":0.0,"y":-6.5},{"s":"R","x":-0.01,"y":-5.5},{"s":"R","x":-0.01,"y":-4.5},{"s":"R","x":-0.02,"y":-3.5},{"s":"R","x":-0.02,"y":-2.5},{"s":"R","x":-0.02,"y":-1.5},{"s":"R","x":-0.02,"y":-0.5},{"s":"R","x":-0.02,"y":0.5},{"s":"R","x":-0.02,"y":1.5},{"s":"R","x":-0.02,"y":2.5},{"s":"R","x":-0.01,"y":3.5},{"s":"R","x":-0.01,"y":4.5},{"s":"R","x":0.0,"y":5.5},{"s":"R","x":0.0,"y":6.5},{"s":"R","x":0.01,"y":7.3},{"s":"R","x":0.03,"y":8.0},{"s":"R","x":0.06,"y":8.5},{"s":"R","x":0.1,"y":8.8},
{"s":"R","x":0.14,"y":9.6},{"s":"R","x":0.18,"y":8.2},{"s":"R","x":0.22,"y":9.7},{"s":"R","x":0.26,"y":8.3},{"s":"R","x":0.3,"y":9.7},{"s":"R","x":0.34,"y":8.4},{"s":"R","x":0.38,"y":9.8},{"s":"R","x":0.42,"y":8.4},{"s":"R","x":0.46,"y":9.9},{"s":"R","x":0.5,"y":8.5},{"s":"R","x":0.54,"y":9.9},{"s":"R","x":0.58,"y":8.6},{"s":"R","x":0.62,"y":10.0},{"s":"R","x":0.66,"y":8.7},{"s":"R","x":0.7,"y":10.1},{"s":"R","x":0.74,"y":8.7},{"s":"R","x":0.78,"y":10.2},{"s":"R","x":0.82,"y":8.8},{"s":"R","x":0.86,"y":10.2},{"s":"R","x":0.9,"y":8.9},{"s":"R","x":0.94,"y":10.3},{"s":"R","x":0.98,"y":8.9},{"s":"R","x":1.02,"y":10.4},{"s":"R","x":1.06,"y":9.0},{"s":"R","x":1.1,"y":10.4},{"s":"R","x":1.14,"y":9.1},{"s":"R","x":1.18,"y":10.5},{"s":"R","x":1.22,"y":9.1},{"s":"R","x":1.26,"y":10.6},{"s":"R","x":1.3,"y":9.2},{"s":"R","x":1.34,"y":10.6},{"s":"R","x":1.38,"y":9.3},{"s":"R","x":1.42,"y":10.7},{"s":"R","x":1.46,"y":9.3},{"s":"R","x":1.5,"y":10.8},{"s":"R","x":1.54,"y":9.4},{"s":"R","x":1.58,"y":10.9},{"s":"R","x":1.62,"y":9.5},{"s":"R","x":1.66,"y":10.9},{"s":"R","x":1.7,"y":9.6},{"s":"R","x":1.74,"y":11.0},{"s":"R","x":1.78,"y":9.6},{"s":"R","x":1.82,"y":11.1},{"s":"R","x":1.86,"y":9.7},{"s":"R","x":1.9,"y":11.1},{"s":"R","x":1.94,"y":9.8},{"s":"R","x":1.98,"y":11.2},{"s":"R","x":2.02,"y":9.8},{"s":"R","x":2.06,"y":11.3},{"s":"R","x":2.1,"y":9.9},
{"s":"R","x":2.14,"y":10.9},{"s":"R","x":2.18,"y":11.3},{"s":"R","x":2.22,"y":11.9},{"s":"R","x":2.26,"y":12.6},{"s":"R","x":2.3,"y":13.5},{"s":"R","x":2.34,"y":14.5},{"s":"R","x":2.38,"y":15.6},{"s":"R","x":2.42,"y":16.8},{"s":"R","x":2.46,"y":18.0},{"s":"R","x":2.5,"y":19.3},{"s":"R","x":2.54,"y":20.6},{"s":"R","x":2.58,"y":21.9},{"s":"R","x":2.62,"y":23.1},{"s":"R","x":2.66,"y":24.3},{"s":"R","x":2.7,"y":25.4},{"s":"R","x":2.74,"y":26.4},{"s":"R","x":2.78,"y":27.3},{"s":"R","x":2.82,"y":28.1},{"s":"R","x":2.86,"y":28.8},{"s":"R","x":2.9,"y":29.4},{"s":"R","x":2.94,"y":30.0},{"s":"R","x":2.98,"y":30.5},{"s":"R","x":3.02,"y":30.9},{"s":"R","x":3.06,"y":31.3},{"s":"R","x":3.1,"y":31.7},
{"s":"R","x":3.13,"y":32.0},{"s":"R","x":3.18,"y":32.6},{"s":"R","x":3.22,"y":33.0},{"s":"R","x":3.27,"y":33.4},{"s":"R","x":3.3,"y":33.1},{"s":"R","x":3.33,"y":32.8},{"s":"R","x":3.47,"y":32.7}
]},
"layer":[
 {"mark":{"type":"point","filled":false,"opacity":1},
  "encoding":{
   "x":{"field":"x","type":"quantitative","scale":{"domain":[-6,4],"nice":false,"zero":false},
        "axis":{"orient":"bottom","values":[-6,-4,-2,0,2,4],"labelPadding":6,"title":"t₁","titlePadding":2}},
   "y":{"field":"y","type":"quantitative","scale":{"domain":[-80,40],"nice":false,"zero":false},
        "axis":{"orient":"left","values":[-80,-60,-40,-20,0,20,40],"labelPadding":4,"labelOffset":-1,"title":"Offset (mV)","titlePadding":6}},
   "color":{"field":"s","type":"nominal","scale":{"domain":["Q","S","R"],"range":["#00ff00","#0000ff","#ff0000"]},
     "legend":{"title":null,"orient":"none","legendX":25,"legendY":9,"padding":0,"symbolSize":45,"symbolStrokeWidth":1.2,"rowPadding":7,"labelOffset":19,
       "labelExpr":"datum.label == 'Q' ? 'Quadratic (PROBE)' : datum.label == 'S' ? 'Simulated' : 'SiLVR'"}},
   "shape":{"field":"s","type":"nominal","scale":{"domain":["Q","S","R"],"range":["M-1,0H1M0,-1V1","M-0.3,0A0.3,0.3,0,1,0,0.3,0A0.3,0.3,0,1,0,-0.3,0Z","triangle-up"]},
     "legend":{"title":null,"orient":"none","legendX":25,"legendY":9,"padding":0,"symbolSize":45,"symbolStrokeWidth":1.2,"rowPadding":7,"labelOffset":19,
       "labelExpr":"datum.label == 'Q' ? 'Quadratic (PROBE)' : datum.label == 'S' ? 'Simulated' : 'SiLVR'"}},
   "size":{"field":"s","type":"nominal","scale":{"domain":["Q","S","R"],"range":[85,60,100]},"legend":null},
   "strokeWidth":{"field":"s","type":"nominal","scale":{"domain":["Q","S","R"],"range":[2,1.8,1]},"legend":null}
  }},
 {"mark":{"type":"point","opacity":0,"size":1},
  "encoding":{
   "x":{"field":"x","type":"quantitative","axis":{"orient":"top","values":[-6,-4,-2,0,2,4],"labels":false,"title":null}},
   "y":{"field":"y","type":"quantitative","axis":{"orient":"right","values":[-80,-60,-40,-20,0,20,40],"labels":false,"title":null}}
  }}
],
"resolve":{"axis":{"x":"independent","y":"independent"}}
}
